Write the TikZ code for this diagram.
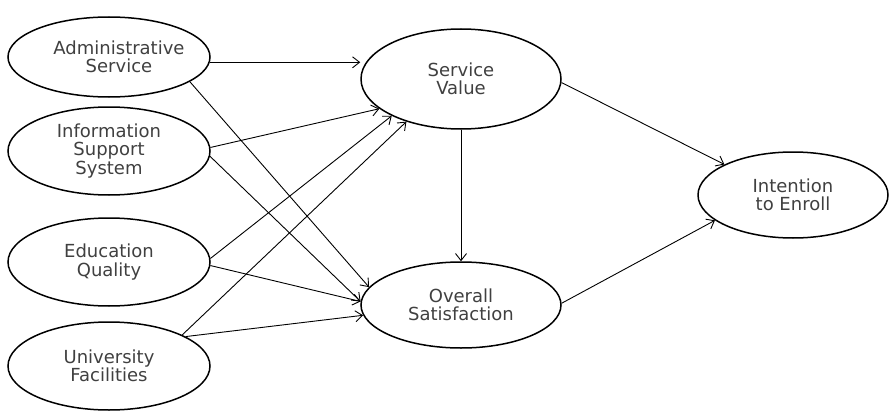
\documentclass[tikz,border=0pt]{standalone}
\usepackage{fontspec}
\setmainfont{DejaVu Sans}
\usetikzlibrary{shapes.geometric,arrows.meta}

\newcommand{\nudge}[1]{\hspace*{10pt}#1\hspace*{-10pt}}

\begin{document}
\begin{tikzpicture}[x=1pt,y=-1pt,
  construct/.style={draw,ellipse,line width=1.5pt,inner sep=0pt,align=center,
    text=black!75,font=\fontsize{18}{18.5}\selectfont},
  link/.style={-{Straight Barb[length=7pt,width=11pt]},line width=0.9pt}]
%\draw[] (0,0) grid (889,412);
\useasboundingbox (0,0) rectangle (889,412);
\node[construct,minimum width=202pt,minimum height=80pt] (adm) at (109,57) {\nudge{Administrative}\\\nudge{Service}};
\node[construct,minimum width=202pt,minimum height=88pt] (iss) at (109,151) {Information\\Support\\System};
\node[construct,minimum width=202pt,minimum height=88pt] (edu) at (109,262) {Education\\Quality};
\node[construct,minimum width=202pt,minimum height=88pt] (uni) at (109,366) {University\\Facilities};
\node[construct,minimum width=200pt,minimum height=100pt] (sv) at (461,79) {Service\\Value};
\node[construct,minimum width=200pt,minimum height=86pt] (os) at (461,305) {Overall\\Satisfaction};
\node[construct,minimum width=190pt,minimum height=86pt] (ite) at (793,195) {Intention\\to Enroll};
\draw[link] (adm.-3) -- (sv.west |- adm.-3);
\draw[link] (adm.-17) -- (os.169);
\draw[link] (iss.2) -- (sv.200);
\draw[link] (iss.-3) -- (os.178);
\draw[link] (edu.2) -- (sv.208);
\draw[link] (edu.-2) -- (os.178);
\draw[link] (uni.23) -- (sv.218);
\draw[link] (uni.21) -- (os.186);
\draw[link] (sv.south) -- (os.north);
\draw[link] (sv.-2) -- (ite.156);
\draw[link] (os.1) -- (ite.198);
\end{tikzpicture}
\end{document}
